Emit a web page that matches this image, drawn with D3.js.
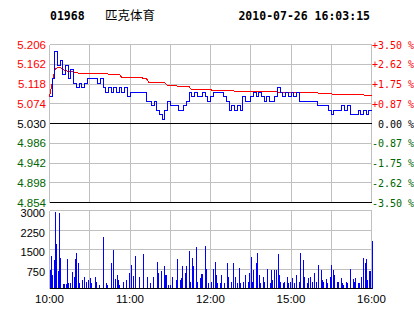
<!DOCTYPE html>
<html>
<head>
<meta charset="utf-8">
<script src="https://cdn.jsdelivr.net/npm/d3@7"></script>
<style>
  body { margin: 0; background: #fff; }
  svg { display: block; }
</style>
</head>
<body>
<svg id="chart"></svg>
<script>
// header
const stockCode = "01968";
const stockName = "匹克体育";
const stamp = "2010-07-26 16:03:15";

// price axis
const prevClose = 5.030;
const priceTicks = [5.206, 5.162, 5.118, 5.074, 5.030, 4.986, 4.942, 4.898, 4.854];
const pctLabels = ["+3.50 %", "+2.62 %", "+1.75 %", "+0.87 %", " 0.00 %", "-0.87 %", "-1.75 %", "-2.62 %", "-3.50 %"];

// volume axis
const volTicks = [3000, 2250, 1500, 750];

// time axis (trading minutes from 10:00, lunch break removed)
const timeTicks = [0, 60, 120, 180, 240];
const timeLabels = ["10:00", "11:00", "12:00", "15:00", "16:00"];

// last price, one value per 2 trading minutes
const price = [
  5.09, 5.13, 5.19, 5.16, 5.17, 5.14, 5.16, 5.13, 5.15, 5.12,
  5.11, 5.12, 5.11, 5.12, 5.13, 5.13, 5.13, 5.13, 5.12, 5.13,
  5.11, 5.10, 5.11, 5.10, 5.11, 5.10, 5.11, 5.10, 5.11, 5.09,
  5.10, 5.10, 5.10, 5.10, 5.10, 5.10, 5.08, 5.08, 5.07, 5.08,
  5.06, 5.05, 5.04, 5.06, 5.08, 5.07, 5.07, 5.07, 5.06, 5.06,
  5.07, 5.08, 5.10, 5.09, 5.10, 5.09, 5.09, 5.10, 5.09, 5.08,
  5.09, 5.10, 5.10, 5.10, 5.10, 5.09, 5.08, 5.06, 5.07, 5.06,
  5.07, 5.06, 5.09, 5.08, 5.08, 5.09, 5.10, 5.09, 5.10, 5.09,
  5.08, 5.09, 5.08, 5.08, 5.09, 5.11, 5.10, 5.09, 5.10, 5.09,
  5.10, 5.09, 5.10, 5.08, 5.08, 5.08, 5.08, 5.08, 5.08, 5.08,
  5.07, 5.07, 5.07, 5.07, 5.06, 5.05, 5.06, 5.06, 5.06, 5.07,
  5.06, 5.07, 5.05, 5.05, 5.05, 5.06, 5.05, 5.06, 5.05, 5.06,
  5.06
];

// average price, same spacing
const avgPrice = [
  5.090, 5.120, 5.150, 5.155, 5.155, 5.150, 5.148, 5.146, 5.146, 5.144,
  5.143, 5.142, 5.142, 5.142, 5.142, 5.142, 5.141, 5.141, 5.141, 5.141,
  5.141, 5.141, 5.140, 5.140, 5.140, 5.140, 5.140, 5.132, 5.132, 5.132,
  5.132, 5.132, 5.132, 5.132, 5.132, 5.131, 5.131, 5.122, 5.122, 5.122,
  5.122, 5.122, 5.121, 5.121, 5.114, 5.114, 5.114, 5.114, 5.113, 5.113,
  5.113, 5.112, 5.112, 5.105, 5.105, 5.105, 5.105, 5.105, 5.105, 5.105,
  5.105, 5.104, 5.104, 5.104, 5.104, 5.104, 5.104, 5.104, 5.104, 5.102,
  5.102, 5.102, 5.102, 5.102, 5.102, 5.102, 5.102, 5.102, 5.102, 5.102,
  5.101, 5.101, 5.101, 5.101, 5.101, 5.100, 5.100, 5.100, 5.099, 5.099,
  5.099, 5.099, 5.099, 5.099, 5.098, 5.098, 5.098, 5.098, 5.098, 5.098,
  5.098, 5.096, 5.096, 5.096, 5.096, 5.096, 5.095, 5.095, 5.095, 5.095,
  5.095, 5.094, 5.094, 5.094, 5.094, 5.094, 5.094, 5.094, 5.092, 5.092,
  5.092
];

// volume: trading minute and shares traded (minutes not listed had none)
const volMinute = [
  0, 1, 2, 3, 4, 5, 6, 7, 8, 10, 11, 12, 13, 14, 15, 17, 18, 19, 20, 21,
  22, 24, 26, 27, 29, 30, 31, 34, 35, 37, 40, 42, 43, 46, 47, 49, 50, 51, 52, 55,
  57, 59, 61, 62, 64, 67, 70, 73, 75, 77, 80, 81, 83, 85, 86, 87, 88, 90, 91, 94,
  95, 97, 98, 99, 101, 102, 104, 105, 106, 107, 109, 110, 112, 113, 114, 116, 117, 118, 120, 122,
  123, 124, 125, 127, 128, 130, 132, 133, 135, 137, 138, 140, 141, 142, 144, 146, 148, 149, 150, 151,
  152, 154, 155, 156, 157, 159, 160, 162, 164, 165, 166, 167, 169, 170, 171, 172, 174, 175, 177, 178,
  179, 181, 182, 184, 186, 187, 189, 190, 192, 193, 194, 196, 197, 199, 200, 202, 203, 204, 206, 207,
  209, 210, 211, 212, 214, 215, 217, 218, 219, 221, 222, 224, 226, 227, 228, 230, 231, 232, 234, 235,
  236, 237, 238, 239, 240
];
const volValue = [
  700, 1260, 510, 1100, 2950, 1700, 680, 2900, 1180, 170, 170, 170, 1150, 220, 220, 650, 450, 1140, 1350, 985,
  200, 330, 460, 260, 330, 420, 200, 430, 260, 130, 2000, 200, 130, 985, 1480, 355, 525, 330, 130, 260,
  330, 590, 920, 490, 1250, 460, 1315, 460, 200, 460, 1030, 590, 660, 880, 525, 525, 130, 130, 460, 330,
  1120, 330, 395, 855, 590, 855, 1450, 265, 1160, 855, 1580, 265, 395, 565, 565, 1645, 750, 220, 265, 750,
  1025, 525, 200, 200, 525, 200, 985, 460, 265, 985, 460, 200, 790, 200, 265, 525, 265, 590, 1210, 265,
  700, 985, 1380, 525, 200, 460, 265, 750, 200, 725, 330, 700, 725, 1340, 525, 265, 200, 265, 460, 200,
  265, 395, 200, 525, 265, 1355, 1080, 460, 200, 395, 460, 265, 590, 265, 920, 725, 330, 265, 370, 200,
  460, 920, 725, 525, 265, 265, 395, 200, 130, 265, 200, 750, 370, 265, 395, 200, 200, 460, 1185, 985,
  1120, 330, 660, 660, 1840
];

const W = 414, H = 314;
const svg = d3.select("#chart").attr("width", W).attr("height", H);

const grid = "#c0c0c0", red = "#ff0000", green = "#006600", blue = "#0000ff";

const x = d3.scaleLinear().domain([0, 240]).range([49.5, 371.5]);
const y = d3.scaleLinear().domain([4.854, 5.206]).range([202.5, 44.5]);
const yv = d3.scaleLinear().domain([0, 3000]).range([288.5, 210.5]);

const tickColor = v => v > prevClose + 1e-9 ? red : (v < prevClose - 1e-9 ? green : "#000");

// header
const head = svg.append("g").style("font-weight", "bold")
  .style("font-family", "'DejaVu Sans Mono', monospace").style("font-size", "11.5px");
head.append("text").attr("x", 50).attr("y", 20).text(stockCode);
svg.append("text").attr("x", 105).attr("y", 20)
  .style("font-family", "'Noto Sans CJK SC', sans-serif").style("font-size", "12.5px")
  .text(stockName);
head.append("text").attr("x", 370).attr("y", 20).attr("text-anchor", "end").text(stamp);

// ---- price panel ----
const pp = svg.append("g").attr("shape-rendering", "crispEdges");

// horizontal gridlines
pp.selectAll(".hg").data(priceTicks.filter(v => v !== prevClose && v !== 4.854))
  .join("line")
  .attr("x1", x(0)).attr("x2", x(240))
  .attr("y1", d => y(d)).attr("y2", d => y(d))
  .attr("stroke", grid);

// vertical gridlines / borders
const halfHours = d3.range(0, 241, 30);
pp.selectAll(".vg").data(halfHours).join("line")
  .attr("x1", d => x(d)).attr("x2", d => x(d))
  .attr("y1", y(5.206)).attr("y2", y(4.854))
  .attr("stroke", grid);

// previous close and bottom line
pp.selectAll(".bl").data([prevClose, 4.854]).join("line")
  .attr("x1", x(0)).attr("x2", x(240))
  .attr("y1", d => y(d)).attr("y2", d => y(d))
  .attr("stroke", "#000");

// left labels
svg.append("g").selectAll("text").data(priceTicks).join("text")
  .attr("x", 46).attr("y", d => y(d) + 4)
  .attr("text-anchor", "end")
  .style("font-family", "'Liberation Sans', Arial, sans-serif").style("font-size", "11.5px")
  .attr("fill", tickColor)
  .text(d => d.toFixed(3));

// right labels
svg.append("g").selectAll("text").data(priceTicks).join("text")
  .attr("x", 372).attr("y", d => y(d) + 4)
  .style("font-family", "'DejaVu Sans Mono', monospace").style("font-size", "10px")
  .style("white-space", "pre")
  .attr("fill", tickColor)
  .text((d, i) => pctLabels[i]);

// average line
const avgLine = d3.line().x((d, i) => x(i * 2)).y(d => y(d));
svg.append("path").datum(avgPrice)
  .attr("d", avgLine).attr("fill", "none")
  .attr("stroke", red).attr("stroke-width", 1)
  .attr("shape-rendering", "crispEdges");

// price line
const priceLine = d3.line().x((d, i) => x(i * 2)).y(d => y(d)).curve(d3.curveStepAfter);
svg.append("path").datum(price)
  .attr("d", priceLine).attr("fill", "none")
  .attr("stroke", blue).attr("stroke-width", 1)
  .attr("shape-rendering", "crispEdges");

// ---- volume panel ----
const vp = svg.append("g").attr("shape-rendering", "crispEdges");

vp.selectAll(".hg").data(volTicks).join("line")
  .attr("x1", x(0)).attr("x2", x(240))
  .attr("y1", d => yv(d)).attr("y2", d => yv(d))
  .attr("stroke", grid);

vp.selectAll(".vg").data(halfHours).join("line")
  .attr("x1", d => x(d)).attr("x2", d => x(d))
  .attr("y1", yv(3000)).attr("y2", yv(0))
  .attr("stroke", grid);

vp.selectAll("rect").data(volValue).join("rect")
  .attr("x", (d, i) => Math.round(x(volMinute[i])))
  .attr("y", d => yv(d))
  .attr("width", 1)
  .attr("height", d => yv(0) - yv(d))
  .attr("fill", blue);

vp.append("line")
  .attr("x1", x(0)).attr("x2", x(240))
  .attr("y1", yv(0)).attr("y2", yv(0))
  .attr("stroke", "#000");

svg.append("g").selectAll("text").data(volTicks).join("text")
  .attr("x", 45).attr("y", d => yv(d) + 6.5)
  .attr("text-anchor", "end")
  .style("font-family", "'Liberation Sans', Arial, sans-serif").style("font-size", "11px")
  .text(d => d);

// time labels
svg.append("g").selectAll("text").data(timeTicks).join("text")
  .attr("x", d => x(d)).attr("y", 303)
  .attr("text-anchor", "middle")
  .style("font-family", "'Liberation Sans', Arial, sans-serif").style("font-size", "11.5px")
  .text((d, i) => timeLabels[i]);
</script>
</body>
</html>
